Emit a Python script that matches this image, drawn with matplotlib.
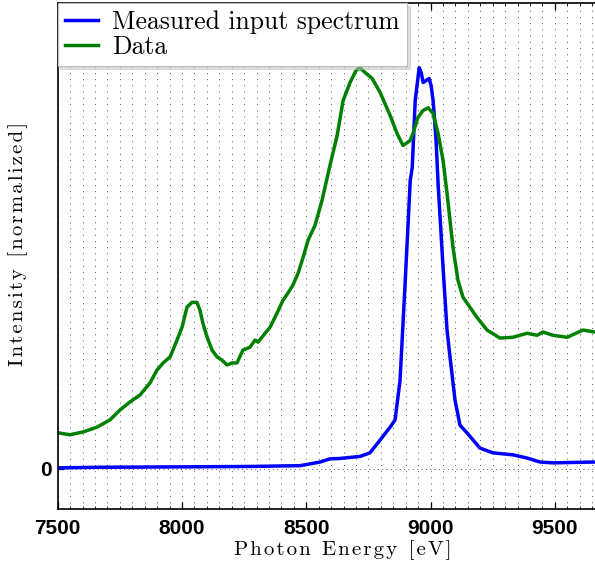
import matplotlib
matplotlib.use("Agg")
import matplotlib.pyplot as plt
from matplotlib.ticker import MultipleLocator, FixedLocator

# Measured input spectrum (blue)
input_ev = [7500, 7670, 7992, 8273, 8475, 8555, 8595, 8636, 8716, 8756,
            8797, 8837, 8857, 8877, 8898, 8918, 8926, 8938, 8954, 8962,
            8970, 8982, 8994, 9002, 9010, 9022, 9030, 9050, 9066, 9078,
            9098, 9118, 9146, 9198, 9250, 9331, 9388, 9440, 9492, 9653, 9700]
input_int = [0.0025, 0.004, 0.005, 0.006, 0.008, 0.017, 0.025, 0.026, 0.031, 0.040,
             0.072, 0.104, 0.122, 0.221, 0.470, 0.719, 0.751, 0.918, 1.000, 0.988,
             0.963, 0.968, 0.973, 0.955, 0.918, 0.818, 0.711, 0.502, 0.346, 0.279,
             0.172, 0.109, 0.090, 0.052, 0.040, 0.035, 0.027, 0.017, 0.015, 0.017, 0.017]

# Data (green)
data_ev = [7500, 7549, 7602, 7658, 7710, 7751, 7791, 7831, 7871, 7899,
           7924, 7952, 7980, 8000, 8020, 8040, 8060, 8072, 8084, 8101,
           8121, 8141, 8161, 8181, 8201, 8221, 8245, 8273, 8294, 8306,
           8334, 8354, 8382, 8406, 8426, 8446, 8467, 8487, 8507, 8535,
           8563, 8595, 8624, 8648, 8676, 8700, 8716, 8736, 8765, 8797,
           8837, 8865, 8889, 8917, 8929, 8949, 8969, 8990, 9010, 9030,
           9050, 9066, 9078, 9090, 9110, 9130, 9158, 9186, 9227, 9279,
           9331, 9388, 9428, 9452, 9492, 9549, 9613, 9661, 9700]
data_int = [0.090, 0.085, 0.092, 0.104, 0.122, 0.147, 0.167, 0.184, 0.214, 0.246,
            0.264, 0.279, 0.321, 0.353, 0.403, 0.415, 0.415, 0.396, 0.363, 0.328,
            0.296, 0.279, 0.271, 0.259, 0.264, 0.264, 0.296, 0.303, 0.321, 0.316,
            0.338, 0.353, 0.388, 0.420, 0.438, 0.458, 0.488, 0.527, 0.570, 0.607,
            0.669, 0.756, 0.831, 0.918, 0.963, 0.993, 1.000, 0.988, 0.973, 0.938,
            0.881, 0.836, 0.806, 0.818, 0.836, 0.876, 0.893, 0.900, 0.886, 0.836,
            0.769, 0.687, 0.619, 0.552, 0.470, 0.428, 0.403, 0.378, 0.346, 0.326,
            0.328, 0.338, 0.333, 0.341, 0.333, 0.328, 0.346, 0.341, 0.338]

xticks = [7500, 8000, 8500, 9000, 9500]
serif = ["cmr10", "DejaVu Serif"]


def spaced(s):
    # letter-spaced label, hair space between glyphs
    return "\u200a".join(s)


fig = plt.figure(figsize=(5.95, 5.71), dpi=100)
ax = fig.add_axes([0.097, 0.1086, 0.961, 0.8853])

ax.plot(input_ev, input_int, color=(0, 0, 1), lw=2.5, label="Measured input spectrum")
ax.plot(data_ev, data_int, color=(0, 0.5, 0), lw=2.5, label="Data")

ax.set_xlim(7500, 9800)
ax.set_ylim(-0.1, 1.16)

ax.xaxis.set_major_locator(FixedLocator(xticks))
ax.xaxis.set_minor_locator(MultipleLocator(50))
ax.yaxis.set_major_locator(FixedLocator([0]))
ax.set_xticklabels([str(t) for t in xticks], fontfamily="Liberation Sans",
                   fontweight="bold", fontsize=15)
ax.set_yticklabels(["0"], fontfamily="Liberation Sans", fontweight="bold", fontsize=15)

ax.tick_params(axis="x", which="major", direction="in", length=5, width=0.9,
               top=True, pad=7)
ax.tick_params(axis="x", which="minor", direction="in", length=2.5, width=0.6, top=True)
ax.tick_params(axis="y", which="major", direction="in", length=4, width=0.9, pad=4)

ax.grid(True, axis="x", which="minor", color="0.35", lw=0.7, linestyle=(0, (1, 5.4)))
ax.grid(True, axis="x", which="major", color="0.35", lw=0.7, linestyle=(0, (1, 5.4)))
ax.grid(True, axis="y", which="major", color="0.35", lw=0.7, linestyle=(0, (1, 3.5)))

for s in ax.spines.values():
    s.set_linewidth(1.2)

ax.set_xlabel(spaced("Photon Energy [eV]"), fontfamily=serif, fontsize=15)
ax.set_ylabel(spaced("Intensity [normalized]"), fontfamily=serif, fontsize=15)
ax.xaxis.set_label_coords(0.499, -0.061)
ax.yaxis.set_label_coords(-0.052, 0.525)

leg = ax.legend(loc="upper left", bbox_to_anchor=(0, 1.0), borderaxespad=0,
                prop={"family": serif, "size": 18.5}, fancybox=False,
                shadow={"color": "0.75"}, framealpha=1, edgecolor="0.75",
                handlelength=1.3, handletextpad=0.55, borderpad=0.28,
                labelspacing=0.02)
leg.get_frame().set_linewidth(0.8)

fig.savefig("out.png", dpi=100)
